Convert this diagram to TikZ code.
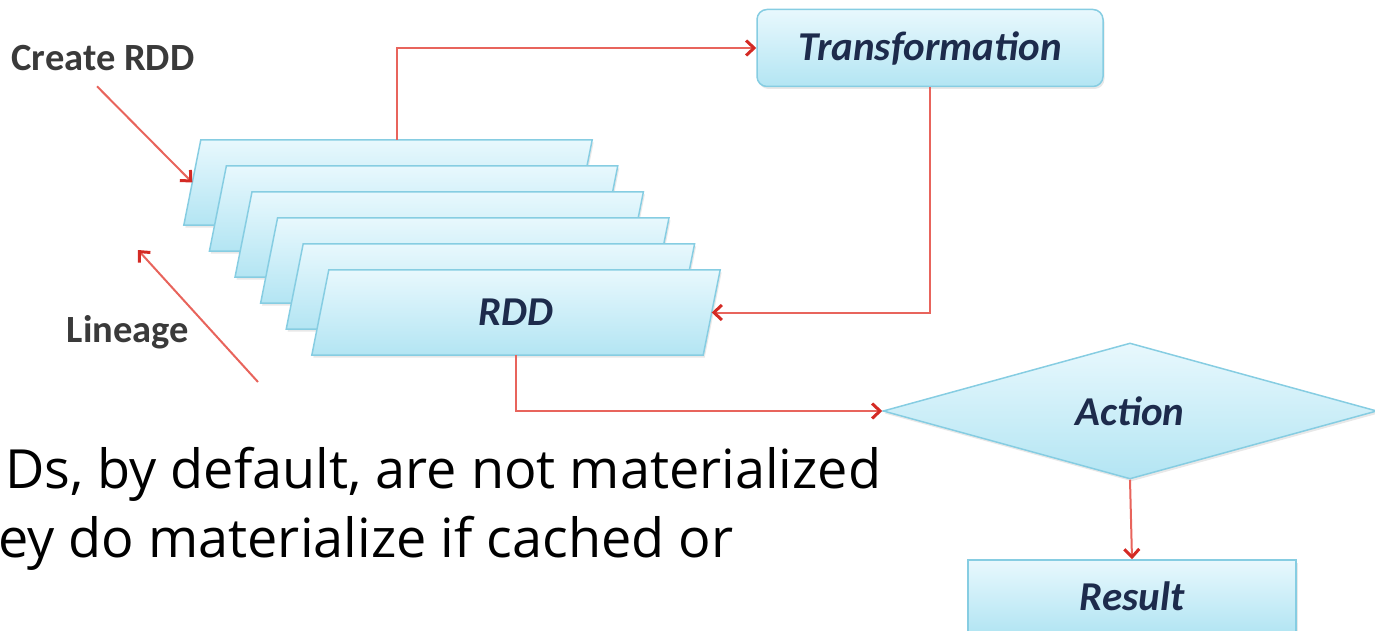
\documentclass[tikz,border=0pt]{standalone}
\usepackage{fontspec}
\setmainfont{Carlito}
\newfontfamily\slidefont{Open Sans}
\usetikzlibrary{shapes.geometric,arrows.meta,shadows}
\definecolor{sparkLine}{HTML}{E8645C}
\definecolor{sparkRed}{HTML}{D42A24}
\definecolor{boxTop}{HTML}{E8F8FD}
\definecolor{boxBottom}{HTML}{B3E5F3}
\definecolor{boxEdge}{HTML}{86CDE2}
\definecolor{inkNavy}{HTML}{1D2B4C}
\definecolor{inkGray}{HTML}{3A3A3A}
\tikzset{
  flow/.style={-{Straight Barb[length=8pt,width=15pt,line width=3pt,color=sparkRed]}, line width=2pt, sparkLine},
  boxfill/.style={top color=boxTop, bottom color=boxBottom, draw=boxEdge, line width=1.5pt,
    drop shadow={opacity=0.18, shadow xshift=1.5pt, shadow yshift=-2.5pt}},
  rddcore/.style={minimum width=391pt, minimum height=85pt, inner sep=0pt},
  lbl/.style={font=\fontsize{41}{49}\selectfont\bfseries\itshape, text=inkNavy},
  tag/.style={font=\fontsize{38.5}{46}\selectfont\bfseries, text=inkGray},
  slide/.style={font=\slidefont\fontsize{54}{70}\selectfont, anchor=base west, inner sep=0pt},
}

\begin{document}
\begin{tikzpicture}[x=1pt, y=-1pt]
  \useasboundingbox (0,0) rectangle (1375,631);
  \clip (0,0) rectangle (1375,631);
  % stack of RDDs, back to front
  \foreach \i in {5,...,0} {
    \node[rddcore] (rdd\i) at (516-25.6*\i, 312.5-26*\i) {};
    \draw[boxfill] ([xshift=8.5pt]rdd\i.north west) -- ([xshift=8.5pt]rdd\i.north east)
      -- ([xshift=-8.5pt]rdd\i.south east) -- ([xshift=-8.5pt]rdd\i.south west) -- cycle;
  }
  \node[lbl] (rddtext) at (rdd0) {RDD};

  \node[boxfill, rounded corners=10pt, minimum width=346pt, minimum height=77pt, lbl] (trans) at (930,48) {Transformation};
  \node[boxfill, diamond, shape aspect=3.6, minimum width=494pt, minimum height=136pt, inner sep=0pt, lbl] (act) at (1130,411) {Action};
  \node[boxfill, minimum width=328pt, minimum height=72pt, lbl] (res) at (1132,596) {Result};

  \node[tag] (create) at (103,58) {Create RDD};
  \node[tag] (lineage) at (128,332) {Lineage};

  \draw[flow] ([xshift=9pt]rdd5.north) |- (trans.west);
  \draw[flow] (trans.south) |- (rdd0.east);
  \draw[flow] (rdd0.south) |- (act.west);
  \draw[flow] (act.south) -- (res.north);
  \draw[flow] ([xshift=-6pt, yshift=-12pt]create.south) -- (rdd5.west);
  \coordinate (linTail) at (258,382);
  \coordinate (linHead) at (138,250);
  \draw[flow] (linTail) -- (linHead);

  % slide text cut off by the picture
  \node[slide] (note1) at (5,488) {Ds, by default, are not materialized};
  \node[slide] (note2) at (-2,557) {ey do materialize if cached or};
\end{tikzpicture}
\end{document}
